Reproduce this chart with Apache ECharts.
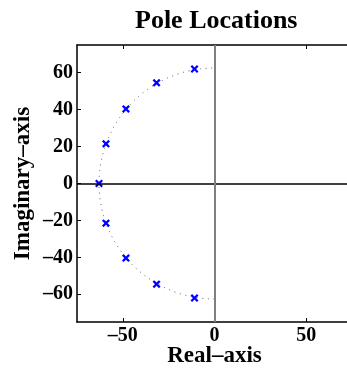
<!DOCTYPE html>
<html>
<head>
<meta charset="utf-8">
<script src="https://cdn.jsdelivr.net/npm/echarts@6.0.0/dist/echarts.min.js"></script>
<style>
  html, body { margin: 0; padding: 0; background: #fff; }
  #pzmap { width: 347px; height: 373px; }
</style>
</head>
<body>
<div id="pzmap"></div>
<script>
// pole locations
const poleReal = [-10.9, -31.6, -48.3, -59.2, -63.0, -59.2, -48.3, -31.6, -10.9];
const poleImag = [62.0, 54.5, 40.4, 21.5, 0, -21.5, -40.4, -54.5, -62.0];
// dotted natural-frequency half circle
const circleRadius = [63];
const xTicks = [-50, 0, 50];
const yTicks = [-60, -40, -20, 0, 20, 40, 60];

const serif = 'Liberation Serif';
const dash = v => String(v).replace('-', '\u2013');

let poles = [];
poleReal.forEach((re, i) => {
  poles.push([re, poleImag[i]]);
});

// 基于准备好的dom，初始化echarts实例
let myChart = echarts.init(document.getElementById('pzmap'));
myChart.setOption({
  animation: false,
  title: {
    text: 'Pole Locations',
    left: 130,
    top: 3,
    textStyle: { fontFamily: serif, fontWeight: 'bold', fontSize: 26, color: '#000' }
  },
  grid: { left: 77, top: 45, width: 275, height: 277, containLabel: false, outerBoundsMode: 'none' },
  xAxis: [{
    type: 'value',
    min: -75,
    max: 75,
    name: 'Real\u2013axis',
    nameLocation: 'middle',
    nameGap: 23,
    nameMoveOverlap: false,
    nameTextStyle: { fontFamily: serif, fontWeight: 'bold', fontSize: 23, color: '#000' },
    axisLine: { show: true, onZero: false, lineStyle: { color: '#000', width: 1.5 } },
    axisTick: { show: true, inside: true, length: 4, customValues: xTicks, lineStyle: { color: '#000' } },
    axisLabel: {
      customValues: xTicks, margin: 4, formatter: dash,
      fontFamily: serif, fontWeight: 'bold', fontSize: 20, color: '#000'
    },
    splitLine: { show: false }
  }, {
    type: 'value',
    position: 'top',
    min: -75,
    max: 75,
    axisLine: { show: true, onZero: false, lineStyle: { color: '#000', width: 1.5 } },
    axisTick: { show: true, inside: true, length: 4, customValues: xTicks, lineStyle: { color: '#000' } },
    axisLabel: { show: false },
    splitLine: { show: false }
  }],
  yAxis: {
    type: 'value',
    min: -75,
    max: 75,
    name: 'Imaginary\u2013axis',
    nameLocation: 'middle',
    nameGap: 42,
    nameMoveOverlap: false,
    nameTextStyle: { fontFamily: serif, fontWeight: 'bold', fontSize: 23, color: '#000' },
    axisLine: { show: true, onZero: false, lineStyle: { color: '#000', width: 1.5 } },
    axisTick: { show: true, inside: true, length: 4, customValues: yTicks, lineStyle: { color: '#000' } },
    axisLabel: {
      customValues: yTicks, margin: 4, formatter: dash,
      fontFamily: serif, fontWeight: 'bold', fontSize: 20, color: '#000'
    },
    splitLine: { show: false }
  },
  series: [{
    // zero lines
    type: 'line',
    data: [],
    z: 1,
    markLine: {
      silent: true,
      symbol: 'none',
      label: { show: false },
      data: [
        { yAxis: 0, lineStyle: { color: '#000', width: 1.5, type: 'solid' } },
        { xAxis: 0, lineStyle: { color: '#808080', width: 2, type: 'solid' } }
      ]
    }
  }, {
    type: 'custom',
    z: 2,
    silent: true,
    data: circleRadius.map(r => [0, 0, r]),
    renderItem: function (params, api) {
      const c = api.coord([api.value(0), api.value(1)]);
      const r = api.size([api.value(2), 0])[0];
      return {
        type: 'arc',
        shape: { cx: c[0], cy: c[1], r: r, startAngle: Math.PI / 2, endAngle: Math.PI * 1.5, clockwise: true },
        style: { stroke: '#555', fill: null, lineWidth: 1, lineDash: [1, 4.7] }
      };
    }
  }, {
    type: 'scatter',
    z: 3,
    data: poles,
    symbol: 'path://M0,2L2,0L5,3L8,0L10,2L7,5L10,8L8,10L5,7L2,10L0,8L3,5Z',
    symbolSize: 8,
    itemStyle: { color: '#0000ff', opacity: 1 }
  }]
});
</script>
</body>
</html>
